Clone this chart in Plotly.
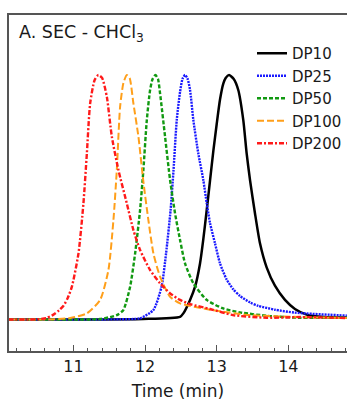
import plotly.graph_objects as go

# ---- data (time in min, normalized detector response) ----
dp10_t = [10.09, 11.0, 11.972, 12.488, 12.534, 12.628, 12.698, 12.767, 12.813, 12.861, 12.907,
          12.953, 13.0, 13.046, 13.092, 13.125, 13.172, 13.235, 13.301, 13.371, 13.418, 13.465,
          13.534, 13.604, 13.697, 13.813, 13.953, 14.092, 14.255, 14.5, 14.817]
dp10_y = [0.002, 0.002, 0.004, 0.013, 0.027, 0.082, 0.136, 0.231, 0.330, 0.450, 0.570,
          0.690, 0.800, 0.900, 0.965, 0.988, 1.0, 0.985, 0.939, 0.816, 0.680, 0.571,
          0.436, 0.313, 0.215, 0.140, 0.082, 0.045, 0.022, 0.012, 0.010]

dp25_t = [10.09, 11.0, 11.651, 11.930, 12.116, 12.230, 12.293, 12.356, 12.397, 12.442, 12.488,
          12.523, 12.558, 12.593, 12.628, 12.674, 12.743, 12.813, 12.861, 12.907, 12.976, 13.046,
          13.139, 13.232, 13.325, 13.465, 13.580, 13.813, 14.092, 14.817]
dp25_y = [0.002, 0.002, 0.003, 0.007, 0.041, 0.136, 0.272, 0.449, 0.612, 0.816, 0.931,
          0.985, 1.0, 0.985, 0.939, 0.816, 0.680, 0.571, 0.476, 0.395, 0.313, 0.231,
          0.165, 0.125, 0.098, 0.072, 0.058, 0.042, 0.030, 0.018]

dp50_t = [10.09, 10.9, 11.372, 11.605, 11.697, 11.791, 11.861, 11.930, 11.976, 12.024, 12.070,
          12.105, 12.144, 12.180, 12.209, 12.279, 12.349, 12.418, 12.488, 12.558, 12.674, 12.861,
          13.092, 13.325, 13.743, 14.162, 14.817]
dp50_y = [0.002, 0.002, 0.004, 0.020, 0.041, 0.136, 0.272, 0.449, 0.612, 0.816, 0.939,
          0.984, 1.0, 0.984, 0.925, 0.748, 0.571, 0.436, 0.327, 0.231, 0.150, 0.082,
          0.047, 0.031, 0.016, 0.009, 0.010]

dp100_t = [10.09, 10.6, 10.954, 11.187, 11.372, 11.488, 11.558, 11.605, 11.651, 11.697, 11.745,
           11.784, 11.837, 11.907, 11.976, 12.046, 12.116, 12.209, 12.349, 12.488, 12.907, 13.465,
           14.162, 14.817]
dp100_y = [0.002, 0.002, 0.008, 0.027, 0.082, 0.204, 0.408, 0.612, 0.870, 0.967, 1.0,
           0.988, 0.884, 0.748, 0.565, 0.408, 0.272, 0.177, 0.095, 0.068, 0.042, 0.020,
           0.012, 0.008]

dp200_t = [10.09, 10.40, 10.50, 10.62, 10.72, 10.80, 10.861, 10.920, 10.978, 11.070, 11.139,
           11.187, 11.233, 11.296, 11.349, 11.400, 11.466, 11.536, 11.628, 11.745, 11.837, 11.930,
           12.070, 12.209, 12.349, 12.488, 12.628, 12.907, 13.227, 13.702, 14.162, 14.817]
dp200_y = [0.002, 0.002, 0.003, 0.008, 0.022, 0.040, 0.058, 0.090, 0.136, 0.272, 0.476,
           0.680, 0.884, 0.980, 1.0, 0.988, 0.911, 0.748, 0.612, 0.476, 0.367, 0.286,
           0.204, 0.150, 0.109, 0.082, 0.065, 0.045, 0.020, 0.009, 0.012, 0.008]

names = ["DP10", "DP25", "DP50", "DP100", "DP200"]
colors = ["#000000", "#1a1aff", "#119911", "#ff9f1a", "#ff1a1a"]
dashes = ["solid", "2px,1px", "4px,2px", "7px,3px", "5px,2px,2px,2px"]
widths = [2.5, 2.4, 2.4, 2.0, 2.4]
series = [(dp10_t, dp10_y), (dp25_t, dp25_y), (dp50_t, dp50_y), (dp100_t, dp100_y), (dp200_t, dp200_y)]

fig = go.Figure()
for (t, y), n, c, d, w in zip(series, names, colors, dashes, widths):
    fig.add_trace(go.Scatter(x=t, y=y, name=n, mode="lines",
                             line=dict(color=c, dash=d, width=w, shape="spline", smoothing=0.6)))

axis_col = "#555555"
FONT = "DejaVu Sans, Arial, sans-serif"
fig.update_layout(
    width=347, height=401,
    margin=dict(l=9, r=0, t=15, b=50),
    paper_bgcolor="white", plot_bgcolor="white",
    font=dict(family=FONT, size=15, color="#1a1a1a"),
    showlegend=True,
    legend=dict(x=1.0, xanchor="right", y=0.9345, yanchor="top",
                bgcolor="rgba(0,0,0,0)", borderwidth=0, itemwidth=30,
                font=dict(size=15)),
    annotations=[dict(text="A. SEC - CHCl<sub>3</sub>", xref="paper", yref="paper",
                      x=0.024, y=0.946, xanchor="left", yanchor="middle",
                      showarrow=False, font=dict(size=17.5))],
)
fig.update_xaxes(range=[10.10, 14.819], showgrid=False, zeroline=False,
                 showline=True, linecolor=axis_col, linewidth=1.5, mirror=True,
                 ticks="inside", ticklen=6, tickcolor=axis_col, tickwidth=1,
                 tickvals=[11, 12, 13, 14], ticktext=["11", "12", "13", "14"],
                 minor=dict(dtick=0.2, tick0=11, ticks="inside", ticklen=3, tickcolor=axis_col),
                 tickfont=dict(size=16),
                 title=dict(text="Time (min)", font=dict(size=17), standoff=13))
fig.update_yaxes(range=[-0.1265, 1.245], showgrid=False, zeroline=False,
                 showline=True, linecolor=axis_col, linewidth=1.5,
                 showticklabels=False, ticks="")

fig.write_html("out.html", config={"displayModeBar": False},
               post_script="document.body.style.margin='0';document.body.style.overflow='hidden';")
